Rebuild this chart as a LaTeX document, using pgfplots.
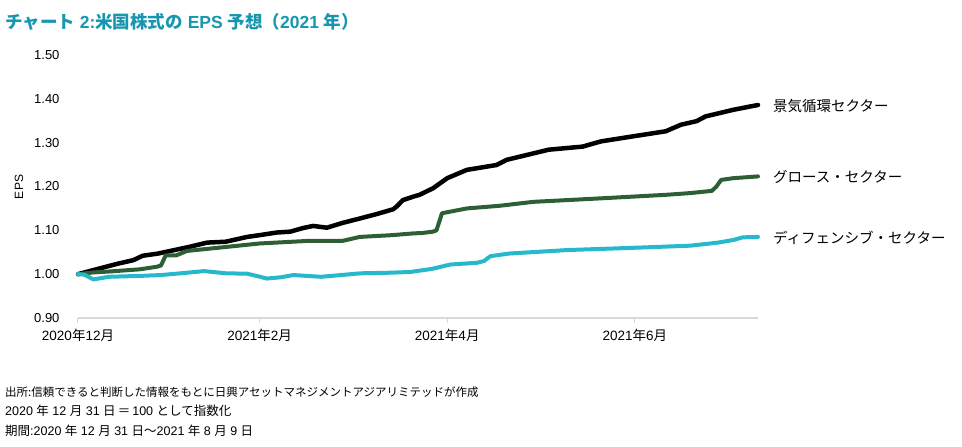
\documentclass[border=0pt]{standalone}
\usepackage{fontspec}
\setmainfont{Liberation Sans}
\newfontfamily\jf{Noto Sans CJK JP}
\newcommand\jp[1]{{\jf #1}}
\usepackage{pgfplots}
\pgfplotsset{compat=1.18}
\definecolor{titlec}{HTML}{1796B0}
\definecolor{cyc}{HTML}{000000}
\definecolor{grw}{HTML}{2E5F34}
\definecolor{dfn}{HTML}{27B8CC}
\definecolor{axc}{HTML}{D9D9D9}
\begin{document}
\begin{tikzpicture}[x=1pt,y=1pt]
\path[use as bounding box] (-78,-129) rectangle (884,318);
\begin{axis}[
  at={(0,0)}, anchor=origin,
  scale only axis, width=680pt, height=263pt,
  xmin=0, xmax=221, ymin=0.9, ymax=1.5,
  axis x line*=bottom, axis y line*=left,
  x axis line style={draw=axc, line width=1.2pt, -},
  y axis line style={draw=none},
  xtick={0,59,120,181},
  xticklabels={2020\jp{年}12\jp{月},2021\jp{年}2\jp{月},2021\jp{年}4\jp{月},2021\jp{年}6\jp{月}},
  xtick style={draw=axc, line width=1pt},
  ytick style={draw=none},
  tick align=outside, major tick length=5pt,
  xticklabel style={font=\fontsize{13.5}{15}\selectfont, yshift=-3pt},
  ytick={0.9,1.0,1.1,1.2,1.3,1.4,1.5},
  yticklabel style={font=\fontsize{13}{15}\selectfont, /pgf/number format/.cd, fixed, fixed zerofill, precision=2, assume math mode=true},
  yticklabel shift=10pt,
  clip=false,
  every axis plot/.append style={line join=round, line cap=round},
]
\addplot[cyc, line width=4.5pt] coordinates {
(0,1.000) (7,1.013) (13,1.024) (18,1.032) (21,1.042) (26,1.047) (30,1.053)
(36,1.062) (42,1.072) (48,1.074) (55,1.085) (59,1.089) (64.6,1.095) (69,1.097)
(73,1.105) (76.4,1.110) (80.9,1.106) (86,1.117) (91.6,1.127) (97,1.137)
(102.4,1.148) (103.5,1.154) (105.6,1.169) (109,1.177) (111,1.181) (115.4,1.196)
(120,1.219) (126.4,1.238) (136,1.249) (139.4,1.261) (153,1.284) (164,1.291)
(170,1.303) (180,1.314) (191,1.326) (196,1.341) (201,1.349) (204,1.360)
(213,1.375) (221,1.386)
};
\addplot[grw, line width=4pt] coordinates {
(0,1.000) (5,1.004) (10,1.006) (20,1.011) (25.7,1.017) (27,1.020) (28.5,1.043)
(32,1.043) (35.4,1.053) (48,1.062) (59,1.070) (75,1.076) (86,1.076) (91.6,1.085)
(102,1.089) (109,1.093) (112,1.094) (115.4,1.097) (116.5,1.100) (118.3,1.139)
(126.4,1.150) (137,1.156) (148,1.165) (170,1.173) (191,1.181) (199,1.185)
(206,1.190) (207.5,1.200) (209,1.215) (213,1.219) (221,1.223)
};
\addplot[dfn, line width=4pt] coordinates {
(0,1.000) (2,0.999) (5,0.988) (10,0.994) (20,0.996) (27,0.998) (35,1.003)
(41,1.007) (48,1.002) (55,1.001) (58,0.996) (61.4,0.990) (66,0.993) (70,0.998)
(79,0.994) (92,1.002) (100,1.003) (108,1.005) (115,1.012) (121,1.022)
(129.7,1.026) (132,1.030) (134,1.041) (140,1.047) (159,1.055) (180,1.060)
(199,1.065) (208,1.072) (213,1.078) (216,1.084) (221,1.085)
};
\end{axis}
\node[rotate=90, inner sep=0pt, font=\fontsize{12}{14}\selectfont] at (-59,131) {EPS};
\node[anchor=base west, inner sep=0pt, text=titlec, font=\fontsize{17.5}{20}\selectfont\bfseries] at (-73,289) {\jp{チャート} 2:\jp{米国株式の} EPS \jp{予想（}2021 \jp{年）}};
\node[anchor=west, inner sep=0pt, font=\fontsize{14.5}{16}\selectfont\jf] at (695,212) {景気循環セクター};
\node[anchor=west, inner sep=0pt, font=\fontsize{14.5}{16}\selectfont\jf] at (695,141) {グロース・セクター};
\node[anchor=west, inner sep=0pt, font=\fontsize{14.5}{16}\selectfont\jf] at (695,80) {ディフェンシブ・セクター};
\node[anchor=west, inner sep=0pt, font=\fontsize{11.5}{14}\selectfont\jf] at (-73,-74) {出所:信頼できると判断した情報をもとに日興アセットマネジメントアジアリミテッドが作成};
\node[anchor=west, inner sep=0pt, font=\fontsize{12.5}{14}\selectfont] at (-73,-93) {2020 \jp{年} 12 \jp{月} 31 \jp{日}\,\jp{＝}\,100 \jp{として指数化}};
\node[anchor=west, inner sep=0pt, font=\fontsize{12.5}{14}\selectfont] at (-73,-113) {\jp{期間}:2020 \jp{年} 12 \jp{月} 31 \jp{日～}2021 \jp{年} 8 \jp{月} 9 \jp{日}};
\end{tikzpicture}
\end{document}
